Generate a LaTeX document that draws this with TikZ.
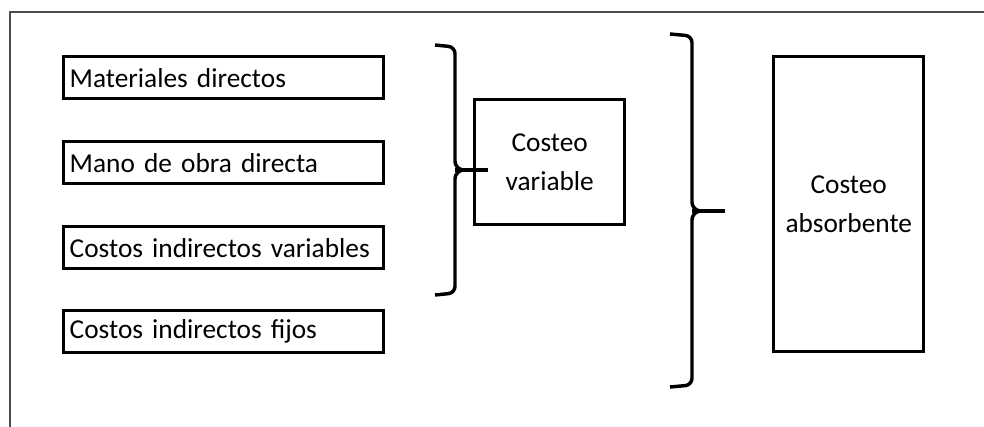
\documentclass[tikz,border=0pt]{standalone}
\usepackage{fontspec}
\setmainfont[WordSpace=0.8]{Carlito}
\usepackage{tikz}

\tikzset{
  item/.style={draw,line width=2.6pt,anchor=north west,minimum height=31.5pt,
    text width=231pt,inner xsep=4.5pt,align=left,font=\fontsize{20.5}{24}\selectfont},
  sumbox/.style={draw,line width=2.6pt,anchor=north west,align=center,
    font=\fontsize{20.5}{29.5}\selectfont},
  brace/.style={line width=2.6pt,rounded corners=5pt}
}

\begin{document}
\begin{tikzpicture}[x=0.75pt,y=-0.75pt]
 \useasboundingbox (0,0) rectangle (984,427);
 % frame (only top and left edge visible)
 \draw[line width=1pt,gray!60!black] (10,427) -- (10,12) -- (984,12);
 % cost items
 \node[item] (mat) at (62,55) {\mbox{Materiales directos}};
 \node[item] (mob) at (62,140) {\mbox{Mano de obra directa}};
 \node[item] (civ) at (62,225) {\mbox{Costos indirectos variables}};
 \node[item] (cif) at (62,309) {\mbox{Costos indirectos fijos}};
 % totals
 \node[sumbox,minimum width=112.5pt,minimum height=93.75pt] (var) at (473,98) {Costeo\\variable};
 \node[sumbox,minimum width=112.5pt,minimum height=221.25pt] (abs) at (772,55) {Costeo\\absorbente};
 % left brace: first three items
 \coordinate (lb) at (455,170);
 \draw[brace] (435,45) -- (455,47) -- (455,168) -- (463,170);
 \draw[brace] (435,295) -- (455,293) -- (455,172) -- (463,170);
 \draw[line width=2.6pt] (lb) -- ([xshift=11pt]var.west |- lb);
 % right brace: all items
 \coordinate (rb) at (692,211);
 \draw[brace] (670,34) -- (692,36) -- (692,209) -- (700,211);
 \draw[brace] (670,387) -- (692,385) -- (692,213) -- (700,211);
 \draw[line width=2.6pt] (rb) -- ([xshift=-35pt]abs.west |- rb);
\end{tikzpicture}
\end{document}
